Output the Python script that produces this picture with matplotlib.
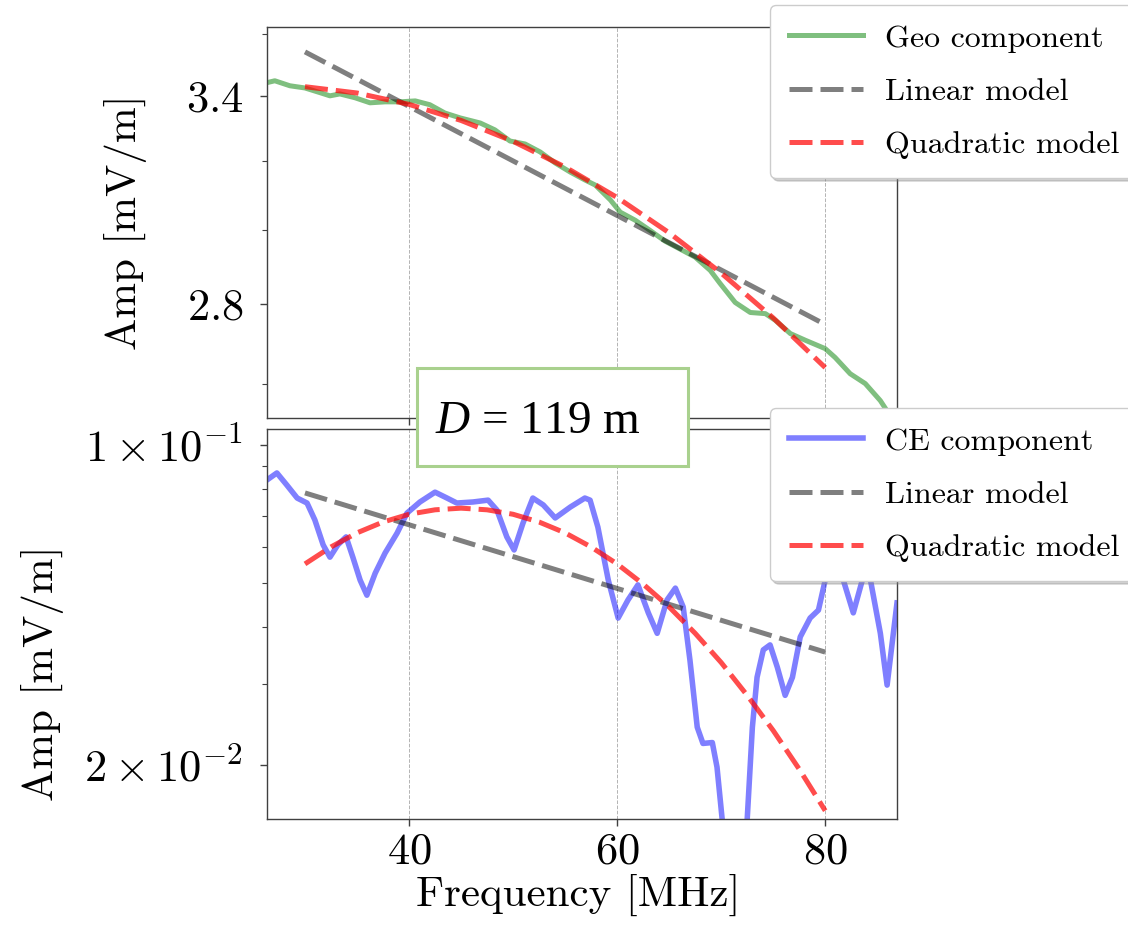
import matplotlib
matplotlib.use("Agg")
import matplotlib.pyplot as plt
from matplotlib.patches import Rectangle
from matplotlib.ticker import NullFormatter

plt.rcParams['font.family'] = 'serif'
plt.rcParams['font.serif'] = ['cmr10']
plt.rcParams['mathtext.fontset'] = 'cm'
plt.rcParams['mathtext.it'] = 'Liberation Serif:italic'
plt.rcParams['mathtext.rm'] = 'Liberation Serif'
plt.rcParams['axes.unicode_minus'] = False
plt.rcParams['lines.solid_joinstyle'] = 'round'

# geo component (top panel)
freq_geo = [26.35, 27.1, 28.55, 30.0, 31.45, 32.4, 33.35, 34.8, 36.25, 37.7, 39.1, 40.6,
            42.0, 43.45, 44.9, 46.85, 48.25, 49.7, 51.15, 52.6, 54.05, 55.5, 56.9, 57.9,
            59.35, 60.3, 61.75, 63.15, 64.6, 66.05, 67.5, 68.95, 69.9, 71.35, 72.8, 74.25,
            75.2, 76.65, 78.1, 80.0, 80.95, 82.4, 83.85, 85.3, 86.9]
amp_geo = [3.442, 3.448, 3.432, 3.425, 3.410, 3.400, 3.406, 3.394, 3.378, 3.381, 3.381, 3.384,
           3.372, 3.346, 3.331, 3.315, 3.294, 3.260, 3.251, 3.227, 3.194, 3.167, 3.144, 3.129,
           3.086, 3.051, 3.028, 3.000, 2.970, 2.948, 2.926, 2.890, 2.855, 2.805, 2.779, 2.776,
           2.759, 2.725, 2.708, 2.687, 2.665, 2.625, 2.601, 2.560, 2.500]

freq_lin = [30, 80]
geo_lin = [3.542, 2.748]
freq_quad_geo = [30, 35, 40, 45, 50, 55, 60, 65, 70, 75, 80]
geo_quad = [3.429, 3.409, 3.373, 3.323, 3.259, 3.182, 3.093, 2.993, 2.883, 2.765, 2.640]

# charge-excess component (bottom panel)
freq_ce = [26.35, 27.3, 28.25, 29.25, 30.2, 30.95, 31.75, 32.4, 33.15, 33.95, 34.6, 35.3,
           35.95, 36.75, 37.7, 38.85, 39.8, 41.05, 42.5, 43.65, 44.6, 46.15, 47.6, 48.45,
           49.4, 50.1, 50.95, 51.9, 52.9, 54.05, 55.5, 56.9, 57.4, 58.15, 59.15, 60.1,
           61.05, 62.0, 63.0, 63.85, 64.8, 65.6, 66.35, 67.0, 67.7, 68.25, 69.15, 69.6,
           70.1, 71.35, 72.5, 73.0, 73.45, 74.05, 74.7, 75.4, 76.15, 76.85, 77.6, 78.55,
           79.35, 80.0, 80.8, 81.65, 82.7, 83.65, 84.35, 85.3, 85.95, 86.9]
amp_ce = [0.0839, 0.0869, 0.0818, 0.0766, 0.0747, 0.0686, 0.0605, 0.0569, 0.0605, 0.0630, 0.0569, 0.0507,
          0.0470, 0.0525, 0.0581, 0.0642, 0.0710, 0.0751, 0.0789, 0.0766, 0.0747, 0.0751, 0.0758, 0.0721,
          0.0630, 0.0590, 0.0675, 0.0766, 0.0740, 0.0693, 0.0732, 0.0766, 0.0758, 0.0662, 0.0507, 0.0419,
          0.0459, 0.0495, 0.0430, 0.0388, 0.0459, 0.0487, 0.0443, 0.0339, 0.0242, 0.0223, 0.0224, 0.0198,
          0.0152, 0.0100, 0.0152, 0.0242, 0.0311, 0.0357, 0.0366, 0.0327, 0.0284, 0.0311, 0.0381, 0.0419,
          0.0436, 0.0507, 0.0605, 0.0515, 0.0430, 0.0515, 0.0507, 0.0388, 0.0299, 0.0452]

ce_lin = [0.0786, 0.0353]
freq_quad_ce = [30, 32.5, 35, 37.5, 40, 42.5, 45, 47.5, 50, 52.5, 55, 57.5, 60, 62.5, 65,
                67.5, 70, 72.5, 75, 77.5, 80]
ce_quad = [0.0550, 0.0599, 0.0643, 0.0679, 0.0706, 0.0722, 0.0728, 0.0722, 0.0706, 0.0679, 0.0643,
           0.0599, 0.0550, 0.0497, 0.0443, 0.0388, 0.0335, 0.0284, 0.0238, 0.0196, 0.0159]

W, H = 1128, 926
fig = plt.figure(figsize=(W / 100, H / 100), dpi=100)
ax1 = fig.add_axes([267 / W, 1 - 418 / H, 630 / W, 391 / H])
ax2 = fig.add_axes([267 / W, 1 - 819 / H, 630 / W, 390 / H], sharex=ax1)

dash = (4.6, 1.6)
ax1.plot(freq_geo, amp_geo, color='g', alpha=0.5, lw=3.6, label='Geo component')
ax1.plot(freq_lin, geo_lin, color='k', alpha=0.5, lw=3.6, ls='--', dashes=dash, label='Linear model')
ax1.plot(freq_quad_geo, geo_quad, color='r', alpha=0.7, lw=3.6, ls='--', dashes=dash, label='Quadratic model')

ax2.plot(freq_ce, amp_ce, color='b', alpha=0.5, lw=4.0, label='CE component')
ax2.plot(freq_lin, ce_lin, color='k', alpha=0.5, lw=3.6, ls='--', dashes=dash, label='Linear model')
ax2.plot(freq_quad_ce, ce_quad, color='r', alpha=0.7, lw=3.6, ls='--', dashes=dash, label='Quadratic model')

for ax in (ax1, ax2):
    ax.set_yscale('log')
    ax.grid(axis='x', ls='--', lw=0.7, color='0.7')
    for s in ax.spines.values():
        s.set_color('0.25')
        s.set_linewidth(1.0)
    ax.tick_params(which='major', length=5, width=1.0, color='0.25', labelsize=32)
    ax.tick_params(which='minor', length=3.5, width=0.8, color='0.25')
    ax.tick_params(axis='y', pad=12)
    ax.tick_params(axis='x', pad=5)

ax1.set_xlim(26.35, 86.9)
ax1.set_xticks([40, 60, 80])
ax2.set_xticklabels(['$40$', '$60$', '$80$'])
ax1.tick_params(axis='x', labelbottom=False)

ax1.set_ylim(2.519, 3.625)
ax1.set_yticks([2.8, 3.4])
ax1.set_yticklabels(['$2.8$', '$3.4$'])
ax1.set_yticks([2.6, 3.0, 3.2, 3.6], minor=True)
ax1.yaxis.set_minor_formatter(NullFormatter())

ax2.set_ylim(0.01525, 0.1084)
ax2.set_yticks([0.02, 0.1])
ax2.set_yticklabels([r'$2\times10^{-2}$', r'$1\times10^{-1}$'])
ax2.set_yticks([0.03, 0.04, 0.05, 0.06, 0.07, 0.08, 0.09], minor=True)
ax2.yaxis.set_minor_formatter(NullFormatter())

ax1.set_ylabel('Amp [mV/m]', fontsize=31)
ax1.yaxis.set_label_coords(-0.19, 0.5)
ax2.set_ylabel('Amp [mV/m]', fontsize=31)
ax2.yaxis.set_label_coords(-0.322, 0.374)
ax2.set_xlabel('Frequency [MHz]', fontsize=31)
ax2.xaxis.set_label_coords(0.494, -0.14)

leg_kw = dict(loc='upper left', bbox_transform=fig.transFigure, fontsize=23,
              handlelength=2.3, handletextpad=0.7, labelspacing=0.78, borderpad=0.6,
              borderaxespad=0, framealpha=1, edgecolor='0.8',
              shadow={'color': '0.5', 'alpha': 0.35})
ax1.legend(bbox_to_anchor=(770 / W, 1 - 5 / H), **leg_kw)
ax2.legend(bbox_to_anchor=(770 / W, 1 - 408 / H), **leg_kw)

fig.patches.append(Rectangle((417 / W, 1 - 466 / H), 271 / W, 98 / H, transform=fig.transFigure,
                             facecolor='white', edgecolor='#a9d18e', lw=2.2, zorder=5))
fig.text(435 / W, 1 - 433 / H, '$D$ = 119 m', family='Liberation Serif', math_fontfamily='custom',
         fontsize=34, va='baseline', ha='left', zorder=6)

fig.savefig('out.png', dpi=100)
